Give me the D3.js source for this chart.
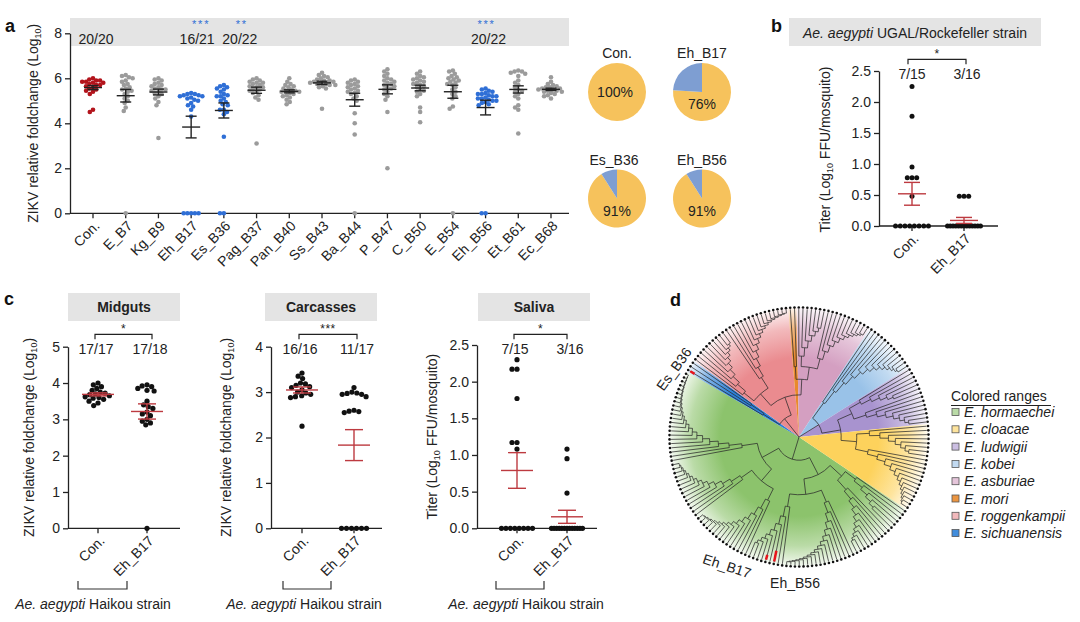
<!DOCTYPE html>
<html><head><meta charset="utf-8">
<script src="https://cdn.jsdelivr.net/npm/d3@7"></script>
<style>
body{margin:0;background:#fff;}
svg{font-family:"Liberation Sans",Arial,Helvetica,sans-serif;}
</style></head><body>
<svg id="fig" width="1080" height="622"></svg>
<script>
// ================= DATA =================
// Panel a
const catsA = ["Con.","E_B7","Kg_B9","Eh_B17","Es_B36","Pag_B37","Pan_B40","Ss_B43","Ba_B44","P_B47","C_B50","E_B54","Eh_B56","Et_B61","Ec_B68"];
const kindA = ["con","other","other","sig","sig","other","other","other","other","other","other","other","sig","other","other"];
const valsA = [
 [6.0,5.95,5.9,5.9,5.85,5.85,5.8,5.8,5.75,5.7,5.7,5.65,5.6,5.55,5.5,5.45,5.4,5.3,4.6,4.5],
 [6.15,6.1,6.05,6.0,5.9,5.85,5.75,5.7,5.6,5.55,5.5,5.45,5.4,5.3,5.2,5.1,5.0,4.9,4.7,4.55,0],
 [6.0,5.95,5.9,5.8,5.75,5.7,5.65,5.6,5.55,5.5,5.5,5.45,5.4,5.35,5.3,5.2,5.1,4.95,4.8,3.35],
 [5.35,5.3,5.3,5.25,5.25,5.2,5.2,5.15,5.1,5.05,5.0,4.9,4.8,4.75,4.6,4.3,0,0,0,0,0],
 [5.7,5.65,5.6,5.55,5.5,5.4,5.3,5.25,5.2,5.2,5.1,5.0,4.95,4.85,4.8,4.6,4.6,4.5,4.4,3.4,0,0],
 [6.0,5.95,5.9,5.85,5.8,5.8,5.75,5.7,5.65,5.6,5.6,5.55,5.5,5.45,5.4,5.35,5.25,5.15,5.05,3.1],
 [6.0,5.85,5.75,5.7,5.65,5.6,5.55,5.5,5.45,5.45,5.4,5.4,5.35,5.3,5.25,5.2,5.15,5.05,4.95,4.85],
 [6.25,6.15,6.1,6.05,6.0,5.95,5.9,5.9,5.85,5.85,5.8,5.8,5.75,5.75,5.7,5.7,5.65,5.6,5.55,4.65],
 [5.95,5.9,5.85,5.8,5.75,5.7,5.65,5.6,5.55,5.5,5.45,5.4,5.35,5.3,5.2,5.1,5.0,4.45,4.0,3.5,0],
 [6.4,6.3,6.2,6.1,6.0,5.95,5.9,5.85,5.8,5.75,5.7,5.65,5.6,5.55,5.5,5.4,5.3,5.2,5.05,4.5,2.0],
 [6.3,6.2,6.1,6.05,6.0,5.95,5.9,5.85,5.8,5.75,5.7,5.65,5.6,5.5,5.45,5.4,5.3,5.2,4.7,4.5,4.05],
 [6.35,6.3,6.2,6.1,6.05,6.0,5.95,5.9,5.85,5.8,5.75,5.7,5.6,5.5,5.4,5.3,5.2,5.1,4.75,4.65,0],
 [5.55,5.5,5.45,5.4,5.35,5.3,5.3,5.25,5.2,5.2,5.15,5.1,5.1,5.05,5.0,5.0,4.95,4.9,4.85,4.8,0,0],
 [6.35,6.3,6.3,6.25,6.2,6.1,5.9,5.8,5.7,5.6,5.5,5.45,5.4,5.3,5.2,5.1,4.8,4.7,4.6,3.55],
 [6.05,5.85,5.75,5.7,5.65,5.6,5.6,5.55,5.55,5.5,5.5,5.45,5.45,5.4,5.4,5.35,5.3,5.25,5.2,5.1]
];
const ticksA = [0,2,4,6,8];
const bandTextA = ["20/20","","","16/21","20/22","","","","","","","","20/22","",""];
const bandStarsA = ["","","","***","**","","","","","","","","***","",""];
// Pies
const pieNames = ["Con.","Eh_B17","Es_B36","Eh_B56"];
const piePct = [100,76,91,91];
// Panel b
const catsB = ["Con.","Eh_B17"];
const bCon = [2.25,1.77,0.95,0.78,0.78,0.78,0.48,0,0,0,0,0,0,0,0];
const bEh  = [0.48,0.48,0.48,0,0,0,0,0,0,0,0,0,0,0,0,0];
const bRatio = ["7/15","3/16"];
const ticksTiter = [0,0.5,1,1.5,2,2.5];
// Panel c
const midCon = [4.0,3.95,3.9,3.85,3.8,3.75,3.72,3.7,3.68,3.65,3.62,3.6,3.58,3.55,3.5,3.45,3.38];
const midEh  = [3.95,3.92,3.9,3.85,3.8,3.78,3.5,3.4,3.35,3.3,3.2,3.15,3.1,3.0,2.95,2.9,2.85,0];
const midRatio = ["17/17","17/18"];
const carCon = [3.42,3.35,3.3,3.2,3.18,3.15,3.12,3.1,3.05,3.0,2.98,2.95,2.92,2.9,2.88,2.25];
const carEh  = [3.1,3.0,2.98,2.97,2.95,2.95,2.9,2.6,2.58,2.57,2.55,0,0,0,0,0,0];
const carRatio = ["16/16","11/17"];
const salCon = [2.3,2.17,2.17,1.77,1.17,1.17,1.08,0,0,0,0,0,0,0,0];
const salEh  = [1.08,0.95,0.48,0,0,0,0,0,0,0,0,0,0,0,0,0];
const salRatio = ["7/15","3/16"];
// Panel d (tree): clades in legend order, and subclade leaf counts
const cladeNames = ["E. hormaechei","E. cloacae","E. ludwigii","E. kobei","E. asburiae","E. mori","E. roggenkampii","E. sichuanensis"];
const cladeColors = ["#8cc36c","#fdd25c","#a893cf","#99c2e8","#d49fc1","#e9892c","#ea8b8f","#2c80d8"];
const subHormaechei = [6,10,17,9,15,14,22];
const subCloacae = [8,13];
const subLudwigii = [6,8];
const subKobei = [13];
const subAsburiae = [7,11];
const subMori = [2];
const subRoggenkampii = [10,16];
const subSichuanensis = [3];
const highlightNames = ["Eh_B17","Eh_B56","Es_B36"];
const highlightLeaf = [37,35,93];

// ================= DRAW =================
const svg = d3.select("#fig");
const INK = "#222", RED = "#bd3a40", BLUE = "#2f6fd6", GRAY = "#9b9b9b", CONRED = "#b3141c", BAND = "#e4e4e4";
const pointColor = {con: CONRED, sig: BLUE, other: GRAY};

function swarm(ys, sp, maxW) {
  const xs = new Array(ys.length).fill(0);
  const groups = d3.group(d3.range(ys.length), i => ys[i]);
  const rest = [];
  groups.forEach(idx => {
    if (idx.length >= 3) {
      const k = idx.length, s = Math.min(sp, 2 * maxW / (k - 1));
      idx.forEach((i, j) => xs[i] = (j - (k - 1) / 2) * s);
    } else rest.push(...idx);
  });
  rest.sort((a, b) => ys[a] - ys[b]);
  const placed = [];
  for (const i of rest) {
    const yv = ys[i];
    const cand = [0];
    placed.forEach(p => { const dy = Math.abs(p.y - yv); if (dy < sp) { const dx = Math.sqrt(sp * sp - dy * dy); cand.push(p.x + dx, p.x - dx); } });
    cand.sort((a, b) => Math.abs(a) - Math.abs(b) || a - b);
    let cx = 0;
    for (const c of cand) { if (placed.every(p => (p.x - c) ** 2 + (p.y - yv) ** 2 >= sp * sp - 0.01)) { cx = c; break; } }
    xs[i] = cx; placed.push({x: cx, y: yv});
  }
  return xs;
}

function styleAxis(sel) {
  sel.attr("font-family", null).attr("font-size", null);
  sel.selectAll("path.domain").attr("stroke", INK).attr("stroke-width", 1.3);
  sel.selectAll(".tick line").attr("stroke", INK).attr("stroke-width", 1.3);
  sel.selectAll(".tick text").attr("fill", INK).style("font-size", "14px");
}

function yTitle(g, x, y, parts) {
  const t = g.append("text").attr("transform", `translate(${x},${y}) rotate(-90)`)
    .attr("text-anchor", "middle").style("font-size", "14px").attr("fill", INK);
  t.append("tspan").text(parts[0]);
  t.append("tspan").text("10").style("font-size", "9px").attr("dy", 3);
  t.append("tspan").text(parts[1]).attr("dy", -3);
}

function dotPanel(cfg) {
  const g = svg.append("g");
  const y = d3.scaleLinear().domain(cfg.domain).range([cfg.y0, cfg.y1]);
  const x = d3.scalePoint().domain(cfg.cats).range(cfg.xr);
  const ax = g.append("g").attr("transform", `translate(${cfg.axX},0)`)
    .call(d3.axisLeft(y).tickValues(cfg.ticks).tickFormat(cfg.fmt).tickSize(5).tickSizeOuter(0));
  styleAxis(ax);
  g.append("line").attr("x1", cfg.axX).attr("x2", cfg.axX2).attr("y1", y(0)).attr("y2", y(0))
    .attr("stroke", INK).attr("stroke-width", 1.3);
  cfg.cats.forEach(c => {
    g.append("line").attr("x1", x(c)).attr("x2", x(c)).attr("y1", y(0)).attr("y2", y(0) + 5)
      .attr("stroke", INK).attr("stroke-width", 1.3);
    g.append("text").attr("transform", `translate(${x(c) + 4},${y(0) + 10}) rotate(-45)`)
      .attr("text-anchor", "end").attr("dy", "0.35em").style("font-size", "14px").attr("fill", INK).text(c);
  });
  cfg.vals.forEach((arr, i) => {
    const cx = x(cfg.cats[i]);
    const ys = arr.map(v => y(v));
    const offs = swarm(ys, cfg.sp, cfg.maxW);
    const col = cfg.colors[i];
    g.append("g").selectAll("circle").data(arr).join("circle")
      .attr("cx", (d, j) => cx + offs[j]).attr("cy", (d, j) => ys[j]).attr("r", cfg.r).attr("fill", col);
    const m = d3.mean(arr), sem = d3.deviation(arr) / Math.sqrt(arr.length);
    const ec = cfg.errColor, ew = 1.4;
    const eg = g.append("g").attr("stroke", ec).attr("stroke-width", ew);
    eg.append("line").attr("x1", cx - cfg.meanHW).attr("x2", cx + cfg.meanHW).attr("y1", y(m)).attr("y2", y(m));
    eg.append("line").attr("x1", cx).attr("x2", cx).attr("y1", y(m - sem)).attr("y2", y(m + sem));
    [m - sem, m + sem].forEach(v => eg.append("line").attr("x1", cx - cfg.capHW).attr("x2", cx + cfg.capHW).attr("y1", y(v)).attr("y2", y(v)));
  });
  yTitle(g, cfg.titleX, (cfg.y0 + cfg.y1) / 2 + (cfg.titleDy || 0), cfg.title);
  return {g, x, y};
}

function label(txt, x, y) {
  svg.append("text").attr("x", x).attr("y", y).style("font-size", "18px").style("font-weight", "bold").attr("fill", "#111").text(txt);
}
function band(x, y, w, h) { svg.append("rect").attr("x", x).attr("y", y).attr("width", w).attr("height", h).attr("fill", BAND); }
function txt(s, x, y, opt = {}) {
  return svg.append("text").attr("x", x).attr("y", y).attr("text-anchor", opt.anchor || "middle")
    .style("font-size", (opt.size || 14) + "px").style("font-weight", opt.bold ? "bold" : null)
    .style("letter-spacing", opt.ls ? opt.ls + "px" : null)
    .attr("fill", opt.fill || INK).text(s);
}
function bracket(x1, x2, yb, stars) {
  svg.append("path").attr("d", `M${x1},${yb + 5}V${yb}H${x2}V${yb + 5}`).attr("fill", "none").attr("stroke", INK).attr("stroke-width", 1.2);
  txt(stars, (x1 + x2) / 2, yb - 1, {size: 12, ls: 0.5});
}
function strainText(cx, y) {
  const t = svg.append("text").attr("x", cx).attr("y", y).attr("text-anchor", "middle").style("font-size", "14px").attr("fill", INK);
  t.append("tspan").style("font-style", "italic").text("Ae. aegypti");
  t.append("tspan").text(" Haikou strain");
}
function strainBracket(x1, x2, yb) {
  svg.append("path").attr("d", `M${x1},${yb - 8}V${yb}H${x2}V${yb - 8}`).attr("fill", "none").attr("stroke", "#333").attr("stroke-width", 1.2);
}

// ---------- Panel a ----------
label("a", 5, 32);
band(70, 18, 499, 28);
const pa = dotPanel({
  cats: catsA, vals: valsA, colors: kindA.map(k => pointColor[k]),
  domain: [0, 8], ticks: ticksA, fmt: d3.format("d"), y0: 213.3, y1: 33.3,
  axX: 70, axX2: 569, xr: [93, 551], r: 2.3, sp: 3.9, maxW: 7.5, meanHW: 9, capHW: 5.5, errColor: INK,
  titleX: 38, title: ["ZIKV relative foldchange (Log", ")"]
});
const bandDx = {3: 6, 4: 16};
const starDx = {3: 10, 4: 18};
catsA.forEach((c, i) => {
  if (bandTextA[i]) txt(bandTextA[i], pa.x(c) + (bandDx[i] || 3), 43.5, {size: 14});
  if (bandStarsA[i]) txt(bandStarsA[i], pa.x(c) + (starDx[i] || 1), 28, {size: 11, fill: BLUE, ls: 1.8});
});

// ---------- Pies ----------
const pieCenters = [[617, 92], [702, 92], [617, 198.5], [702, 198.5]];
const pieGen = d3.pie().sort(null).value(d => d);
const arcP = d3.arc().innerRadius(0).outerRadius(29);
pieNames.forEach((n, i) => {
  const [cx, cy] = pieCenters[i];
  const g = svg.append("g").attr("transform", `translate(${cx},${cy})`);
  g.selectAll("path").data(pieGen([piePct[i], 100 - piePct[i]])).join("path")
    .attr("d", arcP).attr("fill", (d, j) => j === 0 ? "#f6c25c" : "#7e9ed2");
  txt(n, cx - (i === 2 ? 3 : 0), cy - 34, {size: 14});
  if (piePct[i] === 100) txt(piePct[i] + "%", cx - 2, cy + 5, {size: 14});
  else txt(piePct[i] + "%", cx, cy + 17, {size: 14});
});

// ---------- Panel b ----------
label("b", 771, 32);
band(789, 18, 252, 28);
{
  const t = svg.append("text").attr("x", 915).attr("y", 38).attr("text-anchor", "middle").style("font-size", "14px").attr("fill", INK);
  t.append("tspan").style("font-style", "italic").text("Ae. aegypti");
  t.append("tspan").text(" UGAL/Rockefeller strain");
}
const pb = dotPanel({
  cats: catsB, vals: [bCon, bEh], colors: ["#111", "#111"],
  domain: [0, 2.5], ticks: ticksTiter, fmt: d3.format(".1f"), y0: 226, y1: 71,
  axX: 879, axX2: 998, xr: [912, 964], r: 2.5, sp: 4.7, maxW: 16.5, meanHW: 14, capHW: 8, errColor: RED,
  titleX: 830, titleDy: 1, title: ["Titer (Log", " FFU/mosquito)"]
});
bracket(908, 966, 59.3, "*");
bRatio.forEach((s, i) => txt(s, pb.x(catsB[i]) + (i ? 3 : 0), 78.5, {size: 14}));

// ---------- Panel c ----------
label("c", 4, 305);
const cPanels = [
  {name: "Midguts", vals: [midCon, midEh], ratio: midRatio, stars: "*", dom: [0, 5], ticks: [0,1,2,3,4,5], fmt: d3.format("d"), y1: 346.7,
   axX: 68, axX2: 180, xr: [98, 147], bandX: 68, titleX: 34, title: ["ZIKV relative foldchange (Log", ")"], br: [95, 152], sb: [78, 127], st: 93},
  {name: "Carcasses", vals: [carCon, carEh], ratio: carRatio, stars: "***", dom: [0, 4], ticks: [0,1,2,3,4], fmt: d3.format("d"), y1: 346.7,
   axX: 271, axX2: 382, xr: [302, 354], bandX: 265, titleX: 231, title: ["ZIKV relative foldchange (Log", ")"], br: [299, 357], sb: [283, 331], st: 304},
  {name: "Saliva", vals: [salCon, salEh], ratio: salRatio, stars: "*", dom: [0, 2.5], ticks: ticksTiter, fmt: d3.format(".1f"), y1: 345,
   axX: 477, axX2: 597, xr: [517, 567], bandX: 478, titleX: 437, title: ["Titer (Log", " FFU/mosquito)"], br: [514, 567], sb: [496, 544], st: 526}
];
cPanels.forEach(p => {
  band(p.bandX, 293, 112, 28);
  txt(p.name, p.bandX + 56, 312, {size: 14, bold: true});
  const pp = dotPanel({
    cats: catsB, vals: p.vals, colors: ["#111", "#111"],
    domain: p.dom, ticks: p.ticks, fmt: p.fmt, y0: 528.3, y1: p.y1,
    axX: p.axX, axX2: p.axX2, xr: p.xr, r: 2.6, sp: 5.0, maxW: 15.5, meanHW: 16, capHW: 9, errColor: RED,
    titleX: p.titleX, title: p.title
  });
  bracket(p.br[0], p.br[1], 334.3, p.stars);
  p.ratio.forEach((s, i) => txt(s, pp.x(catsB[i]) + (i ? 3 : -2), 354, {size: 14}));
  strainBracket(p.sb[0], p.sb[1], 589);
  strainText(p.st, 609);
});

// ---------- Panel d (tree) ----------
label("d", 670, 306);
const R = 128, TCX = 799, TCY = 437;
let leafCounter = 0;
function mkLeaf() { return {name: "L" + (leafCounter++)}; }
function comb(nodes) { return nodes.length === 1 ? nodes[0] : {children: [nodes[0], comb(nodes.slice(1))]}; }
function balanced(nodes) {
  if (nodes.length === 1) return nodes[0];
  const m = Math.ceil(nodes.length / 2);
  return {children: [balanced(nodes.slice(0, m)), balanced(nodes.slice(m))]};
}
function subclade(n) { return comb(d3.range(n).map(mkLeaf)); }
const cladeSubs = [subHormaechei, subCloacae, subLudwigii, subKobei, subAsburiae, subMori, subRoggenkampii, subSichuanensis];
// circular order: hormaechei, sichuanensis, roggenkampii, mori, asburiae, kobei, ludwigii, cloacae
const circOrder = [0, 7, 6, 5, 4, 3, 2, 1];
const cladeNode = {};
const cladeLeafRange = {};
circOrder.forEach(k => {
  const start = leafCounter;
  cladeNode[k] = balanced(cladeSubs[k].map(subclade));
  cladeLeafRange[k] = [start, leafCounter - 1];
});
const treeData = {children: [cladeNode[0], comb([cladeNode[7], cladeNode[6], cladeNode[5], cladeNode[4]]), comb([cladeNode[3], cladeNode[2], cladeNode[1]])]};
const N = leafCounter;
const START = 124;
const step = 360 / N;
const root = d3.hierarchy(treeData);
root.eachAfter(d => {
  if (!d.children) d.ang = START + (+d.data.name.slice(1) + 0.5) * step;
  else d.ang = d3.mean(d.children, c => c.ang);
  d.rad = d.children ? R * (1 - Math.exp(-d.depth / 5.0)) : R;
});
const tg = svg.append("g").attr("transform", `translate(${TCX},${TCY})`);
const defs = svg.append("defs");
cladeColors.forEach((c, k) => {
  const gr = defs.append("radialGradient").attr("id", "cg" + k).attr("gradientUnits", "userSpaceOnUse")
    .attr("cx", 0).attr("cy", 0).attr("r", R);
  [[0, 1], [0.62, 1], [0.85, 0.6], [1, 0.12]].forEach(([o, op]) =>
    gr.append("stop").attr("offset", o).attr("stop-color", c).attr("stop-opacity", op));
});
const wedge = d3.arc().innerRadius(0).outerRadius(R + 1);
circOrder.forEach(k => {
  const [a, b] = cladeLeafRange[k];
  const a0 = (START + a * step) * Math.PI / 180, a1 = (START + (b + 1) * step) * Math.PI / 180;
  tg.append("path").attr("d", wedge({startAngle: a0, endAngle: a1})).attr("fill", `url(#cg${k})`);
});
function linkStep(sa, sr, ea, er) {
  const t0 = (sa - 90) / 180 * Math.PI, t1 = (ea - 90) / 180 * Math.PI;
  return "M" + sr * Math.cos(t0) + "," + sr * Math.sin(t0)
    + (ea === sa ? "" : "A" + sr + "," + sr + " 0 0 " + (ea > sa ? 1 : 0) + " " + sr * Math.cos(t1) + "," + sr * Math.sin(t1))
    + "L" + er * Math.cos(t1) + "," + er * Math.sin(t1);
}
tg.append("g").attr("fill", "none").attr("stroke", "#2a2a2a").attr("stroke-width", 0.75)
  .selectAll("path").data(root.links()).join("path")
  .attr("d", l => linkStep(l.source.ang, l.source.rad, l.target.ang, l.target.rad));
const leaves = root.leaves();
const pxy = (a, r) => [r * Math.cos((a - 90) * Math.PI / 180), r * Math.sin((a - 90) * Math.PI / 180)];
tg.append("g").selectAll("circle").data(leaves).join("circle")
  .attr("cx", d => pxy(d.ang, R + 1.5)[0]).attr("cy", d => pxy(d.ang, R + 1.5)[1]).attr("r", 1.3).attr("fill", "#111");
const hlLen = [5, 11, 5];
highlightLeaf.forEach((li, i) => {
  const a = START + (li + 0.5) * step;
  const p0 = pxy(a, R - hlLen[i] - 1), p1 = pxy(a, R - 1);
  tg.append("line").attr("x1", p0[0]).attr("y1", p0[1]).attr("x2", p1[0]).attr("y2", p1[1]).attr("stroke", "#e8141c").attr("stroke-width", 2.5);
});
const hlLabelPos = [[727, 566, 18], [795, 583, 0], [674, 369, -54]];
highlightNames.forEach((n, i) => {
  const [x, y, rot] = hlLabelPos[i];
  svg.append("text").attr("transform", `translate(${x},${y}) rotate(${rot})`).attr("text-anchor", "middle")
    .attr("dy", "0.35em").style("font-size", "14px").attr("fill", INK).text(n);
});

// Legend
txt("Colored ranges", 951, 401, {anchor: "start", size: 14});
svg.append("line").attr("x1", 951).attr("x2", 1051).attr("y1", 405.5).attr("y2", 405.5).attr("stroke", INK).attr("stroke-width", 1);
cladeNames.forEach((n, i) => {
  const cy = 412 + i * 17.3;
  svg.append("rect").attr("x", 952).attr("y", cy - 3.5).attr("width", 7).attr("height", 7)
    .attr("fill", d3.interpolateRgb(cladeColors[i], "#fff")(i === 5 || i === 7 ? 0.1 : 0.4)).attr("stroke", "#555").attr("stroke-width", 0.8);
  svg.append("text").attr("x", 964).attr("y", cy + 5).style("font-size", "14px").style("font-style", "italic").attr("fill", INK).text(n);
});
</script>
</body></html>
